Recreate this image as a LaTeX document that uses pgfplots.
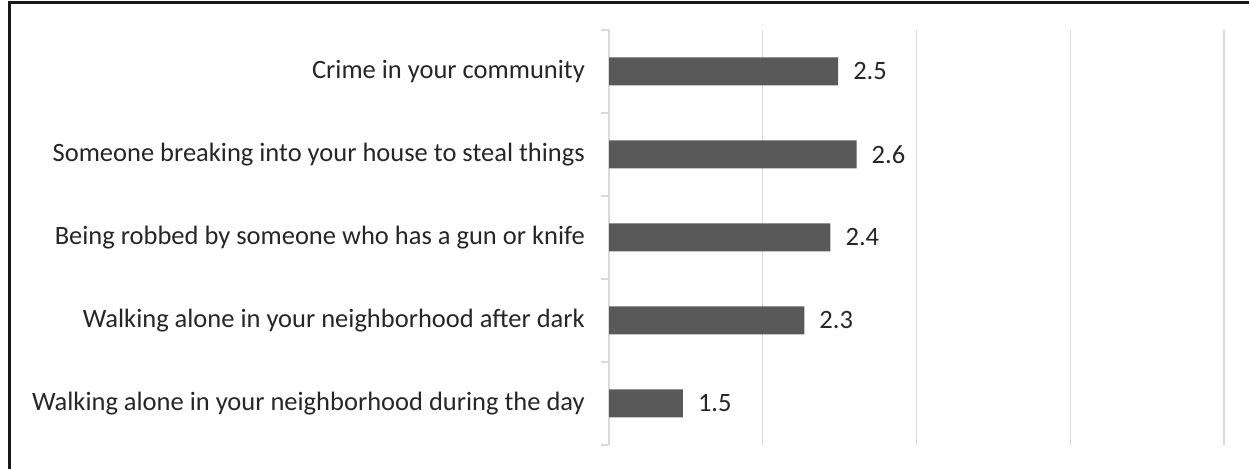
\documentclass[border=0pt]{standalone}
\usepackage{pgfplots}
\pgfplotsset{compat=1.18}
\usepackage{fontspec}
\setmainfont{Carlito}
\definecolor{barc}{HTML}{595959}
\definecolor{gridc}{HTML}{D9D9D9}
\definecolor{txt}{HTML}{262626}
\newcommand{\lblfont}{\fontsize{26.5bp}{30bp}\selectfont}
\begin{document}
\begin{tikzpicture}[x=1bp,y=1bp]
\begin{axis}[
  at={(609bp,24bp)}, anchor=south west,
  scale only axis, width=615bp, height=415bp,
  xbar, bar width=28bp,
  xmin=1, xmax=5, ymin=-0.5, ymax=4.5,
  axis lines=left,
  x axis line style={draw=none},
  y axis line style={draw=gridc, line width=1.2bp, -},
  xtick={2,3,4,5}, xticklabels={},
  xmajorgrids, major grid style={draw=gridc, line width=1.2bp},
  major tick length=0pt,
  ytick={0,1,2,3,4},
  yticklabels={Walking alone in your neighborhood during the day,
    Walking alone in your neighborhood after dark,
    Being robbed by someone who has a gun or knife,
    Someone breaking into your house to steal things,
    Crime in your community},
  minor ytick={-0.5,0.5,1.5,2.5,3.5,4.5},
  minor tick length=8bp, tick align=outside,
  minor tick style={draw=gridc, line width=1.2bp},
  yticklabel style={font=\lblfont, text=txt, inner sep=0pt, anchor=east, xshift=-24bp},
  point meta=explicit symbolic,
  nodes near coords,
  nodes near coords style={font=\lblfont, text=txt, anchor=west, inner sep=0pt, xshift=15bp},
]
\addplot[fill=barc, draw=none] coordinates {(1.48,0) [1.5] (2.27,1) [2.3] (2.44,2) [2.4] (2.61,3) [2.6] (2.49,4) [2.5]};
\end{axis}
\draw[line width=3bp, black!90] (9.5,-20) -- (9.5,466.5) -- (1270,466.5);
\pgfresetboundingbox
\useasboundingbox (0,0) rectangle (1249,469);
\end{tikzpicture}
\end{document}
